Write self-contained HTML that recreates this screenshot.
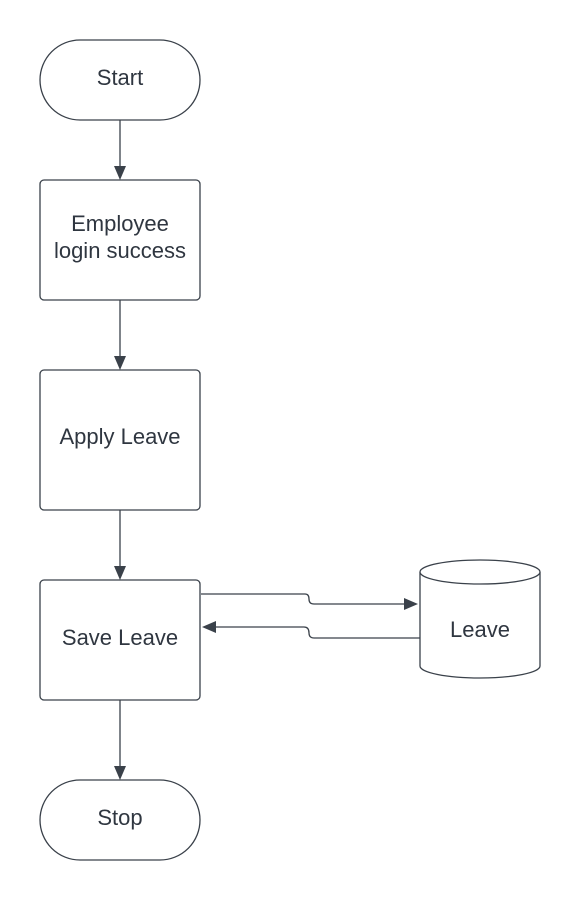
<!DOCTYPE html>
<html><head><style>body{margin:0;background:#fff}</style></head><body>
<svg width="580" height="900" viewBox="0 0 580 900" xmlns="http://www.w3.org/2000/svg" font-family="Liberation Sans, sans-serif" font-size="22" fill="none">
<rect width="580" height="900" fill="#fff"/>
<g stroke="#3a414a" stroke-width="1.3">
<rect x="40" y="40" width="160" height="80" rx="40" fill="#fff"/>
<rect x="40" y="180" width="160" height="120" rx="4" fill="#fff"/>
<rect x="40" y="370" width="160" height="140" rx="4" fill="#fff"/>
<rect x="40" y="580" width="160" height="120" rx="4" fill="#fff"/>
<rect x="40" y="780" width="160" height="80" rx="40" fill="#fff"/>
<path d="M420 572 V666 A60 12 0 0 0 540 666 V572" fill="#fff"/>
<ellipse cx="480" cy="572" rx="60" ry="12" fill="#fff"/>
<line x1="120" y1="120" x2="120" y2="168"/>
<line x1="120" y1="300" x2="120" y2="358"/>
<line x1="120" y1="510" x2="120" y2="568"/>
<line x1="120" y1="700" x2="120" y2="768"/>
<path d="M201 594 H305 Q309 594 309 599 Q309 604 314 604 H406"/>
<path d="M420 638 H314 Q309 638 309 633 Q309 627 304 627 H214"/>
</g>
<g fill="#3a414a">
<path d="M114 166 L126 166 L120 180 Z"/>
<path d="M114 356 L126 356 L120 370 Z"/>
<path d="M114 566 L126 566 L120 580 Z"/>
<path d="M114 766 L126 766 L120 780 Z"/>
<path d="M404 598 L404 610 L418 604 Z"/>
<path d="M216 621 L216 633 L202 627 Z"/>
</g>
<g fill="#2f3640" text-anchor="middle">
<text x="120" y="85">Start</text>
<text x="120" y="231">Employee</text>
<text x="120" y="258">login success</text>
<text x="120" y="444">Apply Leave</text>
<text x="120" y="645">Save Leave</text>
<text x="480" y="637">Leave</text>
<text x="120" y="825">Stop</text>
</g>
</svg>
</body></html>
